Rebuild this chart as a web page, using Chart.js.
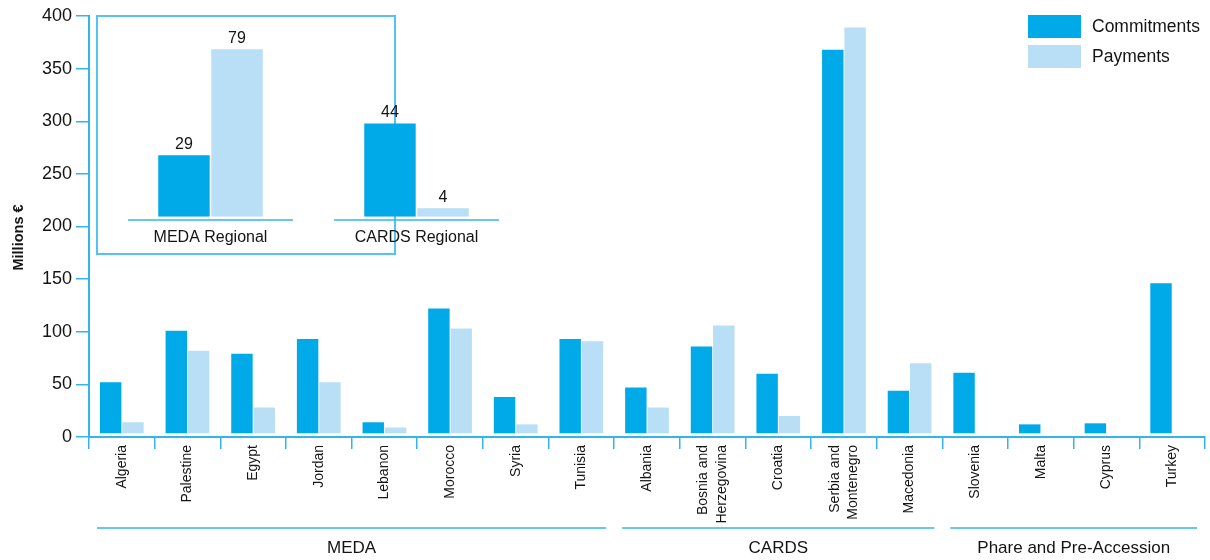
<!DOCTYPE html>
<html><head><meta charset="utf-8">
<script src="https://cdn.jsdelivr.net/npm/chart.js@4.4.1/dist/chart.umd.min.js"></script>
<style>
html,body{margin:0;padding:0;background:#fff;}
#wrap{position:relative;width:1210px;height:560px;overflow:hidden;}
#main{position:absolute;left:0;top:0;}
#insetBox{position:absolute;left:96px;top:15px;width:300px;height:240px;border:2px solid #55c2ef;box-sizing:border-box;background:#fff;}
#inset{position:absolute;left:97px;top:16px;}
</style></head><body>
<div id="wrap">
<canvas id="main" width="1210" height="560"></canvas>
<div id="insetBox"></div>
<canvas id="inset" width="440" height="238"></canvas>
</div>
<script>
// ---- data ----
const categories = ['Algeria','Palestine','Egypt','Jordan','Lebanon','Morocco','Syria','Tunisia','Albania',['Bosnia and','Herzegovina'],'Croatia',['Serbia and','Montenegro'],'Macedonia','Slovenia','Malta','Cyprus','Turkey'];
const commitments = [52,101,79,93,14,122,38,93,47,86,60,368,44,61,12,13,146];
const payments    = [14,82,28,52,9,103,12,91,28,106,20,389,70,null,null,null,null];
const groupNames = ['MEDA','CARDS','Phare and Pre-Accession'];
const groupSizes = [8,5,4];
const yMin = 0, yMax = 400, yStep = 50;
const yTitle = 'Millions €';
const seriesNames = ['Commitments','Payments'];
const insetCategories = ['MEDA Regional','CARDS Regional'];
const insetCommitments = [29,44];
const insetPayments = [79,4];

// ---- style ----
const FONT = '"Liberation Sans", Arial, Helvetica, sans-serif';
const C_COL = '#00aae9';
const P_COL = '#b8dff6';
const AXIS = '#33b5ea';
const TXT = '#141414';

const decorPlugin = {
  id: 'decor',
  afterDraw(chart) {
    const ctx = chart.ctx, xs = chart.scales.x, ys = chart.scales.y, area = chart.chartArea;
    const half = (xs.getPixelForValue(1) - xs.getPixelForValue(0)) / 2;
    ctx.save();
    // rotated category labels
    ctx.fillStyle = TXT; ctx.font = '14px ' + FONT;
    ctx.textAlign = 'right'; ctx.textBaseline = 'middle';
    chart.data.labels.forEach((lab, i) => {
      const lines = Array.isArray(lab) ? lab : [lab];
      const cx = xs.getPixelForValue(i);
      lines.forEach((ln, j) => {
        const x = cx + (j - (lines.length - 1) / 2) * 18.5;
        ctx.save();
        ctx.translate(x, area.bottom + 8);
        ctx.rotate(-Math.PI / 2);
        ctx.fillText(ln, 0, 0);
        ctx.restore();
      });
    });
    // y title
    ctx.save();
    ctx.translate(19, (area.top + area.bottom) / 2 + 11);
    ctx.rotate(-Math.PI / 2);
    ctx.font = 'bold 14.5px ' + FONT; ctx.textAlign = 'center'; ctx.textBaseline = 'middle';
    ctx.fillText(yTitle, 0, 0);
    ctx.restore();
    // group brackets
    let start = 0;
    groupNames.forEach((name, g) => {
      const end = start + groupSizes[g] - 1;
      const x1 = xs.getPixelForValue(start) - half + 8;
      const x2 = xs.getPixelForValue(end) + half - 8;
      const ly = area.bottom + 91;
      ctx.strokeStyle = AXIS; ctx.lineWidth = 1.5;
      ctx.beginPath(); ctx.moveTo(x1, ly); ctx.lineTo(x2, ly); ctx.stroke();
      ctx.fillStyle = TXT; ctx.font = '17px ' + FONT;
      ctx.textAlign = 'center'; ctx.textBaseline = 'middle';
      ctx.fillText(name, (x1 + x2) / 2, area.bottom + 111);
      start = end + 1;
    });
    // legend
    chart.data.datasets.forEach((ds, i) => {
      const y = 15 + i * 30;
      ctx.fillStyle = ds.backgroundColor;
      ctx.fillRect(1028, y, 53, 23);
      ctx.fillStyle = TXT; ctx.font = '17.5px ' + FONT;
      ctx.textAlign = 'left'; ctx.textBaseline = 'middle';
      ctx.fillText(ds.label, 1092, y + 12);
    });
    ctx.restore();
  }
};

new Chart(document.getElementById('main'), {
  type: 'bar',
  data: {
    labels: categories,
    datasets: [
      {label: seriesNames[0], data: commitments, backgroundColor: C_COL, base: 3.5},
      {label: seriesNames[1], data: payments, backgroundColor: P_COL, base: 3.5}
    ]
  },
  options: {
    responsive: false, animation: false, devicePixelRatio: 1,
    categoryPercentage: 0.68, barPercentage: 0.96,
    layout: {padding: {left: 0, right: 5, top: 16, bottom: 0}},
    plugins: {legend: {display: false}, tooltip: {enabled: false}},
    scales: {
      x: {
        grid: {offset: true, drawOnChartArea: false, drawTicks: true, tickLength: 12, color: AXIS, lineWidth: 1.5},
        border: {color: AXIS, width: 2},
        ticks: {display: false, autoSkip: false},
        afterFit(s) { s.height = 123; }
      },
      y: {
        min: yMin, max: yMax,
        grid: {drawOnChartArea: false, drawTicks: true, tickLength: 13, color: AXIS, lineWidth: 1.5},
        border: {color: AXIS, width: 2},
        ticks: {stepSize: yStep, padding: 4, color: TXT, font: {family: FONT, size: 18}},
        afterFit(s) { s.width = 89; }
      }
    }
  },
  plugins: [decorPlugin]
});

const insetPlugin = {
  id: 'insetLabels',
  afterDatasetsDraw(chart) {
    const ctx = chart.ctx, xs = chart.scales.x, area = chart.chartArea;
    const half = (xs.getPixelForValue(1) - xs.getPixelForValue(0)) / 2;
    ctx.save();
    chart.data.datasets.forEach((ds, di) => {
      const meta = chart.getDatasetMeta(di);
      meta.data.forEach((bar, i) => {
        ctx.fillStyle = TXT; ctx.font = '16px ' + FONT;
        ctx.textAlign = 'center'; ctx.textBaseline = 'alphabetic';
        ctx.fillText(String(ds.data[i]), bar.x, bar.y - 6);
      });
    });
    chart.data.labels.forEach((lab, i) => {
      const cx = xs.getPixelForValue(i);
      const ly = area.bottom + 3.3;
      ctx.strokeStyle = AXIS; ctx.lineWidth = 1.5;
      ctx.beginPath(); ctx.moveTo(cx - half * 0.8, ly); ctx.lineTo(cx + half * 0.8, ly); ctx.stroke();
      ctx.fillStyle = TXT; ctx.font = '16px ' + FONT;
      ctx.textAlign = 'center'; ctx.textBaseline = 'middle';
      ctx.fillText(lab, cx, area.bottom + 21);
    });
    ctx.restore();
  }
};

new Chart(document.getElementById('inset'), {
  type: 'bar',
  data: {
    labels: insetCategories,
    datasets: [
      {label: seriesNames[0], data: insetCommitments, backgroundColor: C_COL},
      {label: seriesNames[1], data: insetPayments, backgroundColor: P_COL}
    ]
  },
  options: {
    responsive: false, animation: false, devicePixelRatio: 1,
    categoryPercentage: 0.515, barPercentage: 0.97,
    layout: {padding: {left: 10.5, right: 17.5, top: 9.9, bottom: 37.3}},
    plugins: {legend: {display: false}, tooltip: {enabled: false}},
    scales: {
      x: {display: false},
      y: {display: false, min: 0, max: 90}
    }
  },
  plugins: [insetPlugin]
});
</script>
</body></html>
